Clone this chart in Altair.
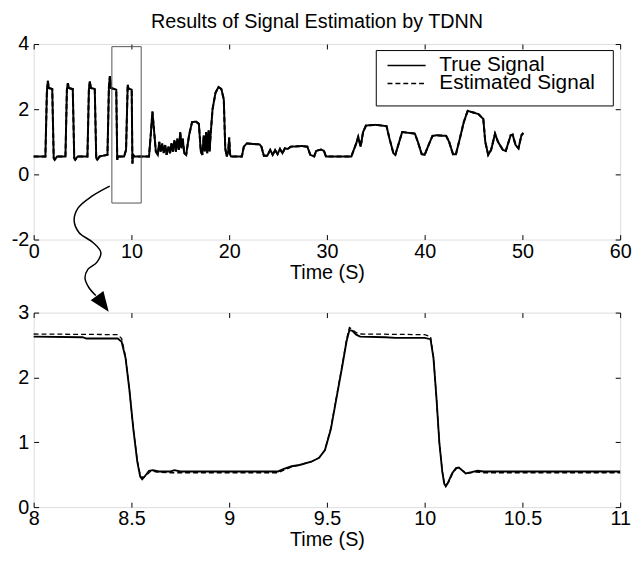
import altair as alt
import pandas as pd

FONT = "Liberation Sans"

# ---------------- data ----------------
top_t = [0, 1.2, 1.35, 1.45, 1.55, 1.9, 2.05, 2.15, 2.4,
         3.25, 3.4, 3.5, 3.6, 4.0, 4.15, 4.25, 4.5,
         5.5, 5.65, 5.75, 5.85, 6.25, 6.4, 6.5, 6.75,
         7.55, 7.7, 7.8, 7.9, 8.45, 8.55, 8.65, 9.25, 9.45, 9.62, 9.7, 10.03, 10.1, 10.17, 10.3,
         11.8, 12.0, 12.15, 12.3, 12.5, 12.7, 12.85, 13.0, 13.15, 13.3, 13.45, 13.6, 13.8, 13.95,
         14.1, 14.25, 14.4, 14.55, 14.7, 14.85, 15.0, 15.1, 15.25, 15.4, 15.6, 15.9, 16.2, 16.6,
         16.9, 17.1, 17.25, 17.4, 17.5, 17.65, 17.75, 17.9, 18.0, 18.1, 18.3, 18.6, 18.9, 19.2,
         19.45, 19.6, 19.75, 19.9, 20.0, 20.1, 20.2,
         21.3, 21.5, 21.8, 22.5, 23.1, 23.3, 23.55, 23.9, 24.2, 24.45, 24.7, 24.95, 25.2, 25.45,
         25.7, 26.0, 26.3, 27.5, 28.0, 28.3, 28.7, 28.9, 29.4, 29.7, 29.9,
         32.5, 33.0, 33.2, 33.45, 33.7, 34.0, 35.0, 36.1, 36.4, 36.8, 37.0, 37.3, 37.7, 38.2,
         39.0, 39.3, 39.7, 40.0, 40.4, 40.8, 41.2, 42.2, 42.5, 42.9, 43.2, 43.6, 44.0, 44.4,
         45.5, 46.0, 46.2, 46.5, 46.8, 47.2, 47.5, 48.0, 48.3, 48.8, 49.0, 49.3, 49.6, 49.9, 50.1]
true_top_v = [0.55, 0.55, 2.5, 2.87, 2.65, 2.62, 0.5, 0.45, 0.55,
              0.55, 2.6, 2.8, 2.65, 2.62, 0.5, 0.45, 0.55,
              0.55, 2.6, 2.85, 2.65, 2.62, 0.5, 0.45, 0.55,
              0.6, 2.7, 3.02, 2.65, 2.6, 0.45, 0.55, 0.55, 0.75, 2.75, 2.63, 2.6, 0.33, 0.6, 0.55,
              0.55, 1.3, 1.93, 1.4, 0.7, 0.6, 1.0, 0.7, 0.95, 0.65, 0.9, 0.6, 0.85, 0.65,
              0.95, 0.7, 1.05, 0.7, 1.1, 0.75, 1.3, 0.8, 1.1, 0.65, 0.6, 1.2, 1.6, 1.62,
              1.55, 0.7, 0.6, 1.2, 0.7, 1.3, 0.65, 1.35, 0.7, 1.2, 2.0, 2.5, 2.68, 2.62,
              2.3, 0.8, 0.55, 0.7, 1.13, 0.6, 0.55,
              0.55, 0.85, 0.95, 0.93, 0.92, 0.85, 0.57, 0.57, 0.75, 0.6, 0.75, 0.62, 0.78, 0.65,
              0.8, 0.78, 0.85, 0.87, 0.85, 0.6, 0.55, 0.72, 0.76, 0.72, 0.55,
              0.55, 0.95, 1.15, 0.85, 1.3, 1.5, 1.52, 1.48, 1.1, 0.65, 0.6, 0.9, 1.3, 1.28,
              1.25, 1.0, 0.62, 0.6, 0.9, 1.18, 1.2, 1.18, 1.0, 0.62, 0.62, 1.1, 1.6, 1.95,
              1.85, 1.7, 1.0, 0.6, 0.75, 1.25, 1.0, 0.75, 0.72, 1.2, 1.22, 0.9, 0.8, 1.2, 1.27]
# estimate is indistinguishable from the true signal at this scale
est_top_v = list(true_top_v)

bot_true_t = [8.0, 8.25, 8.27, 8.43, 8.45, 8.47, 8.49, 8.51, 8.53, 8.545, 8.555, 8.57, 8.59,
              8.61, 8.64, 8.7, 8.72, 8.75, 9.0, 9.25, 9.28, 9.32, 9.36, 9.42, 9.46, 9.49, 9.52,
              9.55, 9.58, 9.6, 9.615, 9.63, 9.65, 9.67, 9.8, 9.85, 10.0, 10.03, 10.045, 10.06,
              10.075, 10.09, 10.1, 10.108, 10.12, 10.14, 10.16, 10.175, 10.19, 10.21, 10.24,
              10.27, 10.3, 11.0]
bot_true_v = [2.63, 2.62, 2.6, 2.6, 2.55, 2.3, 1.8, 1.2, 0.7, 0.47, 0.43, 0.48, 0.56,
              0.57, 0.55, 0.55, 0.57, 0.55, 0.55, 0.55, 0.59, 0.63, 0.65, 0.7, 0.76, 0.88, 1.2,
              1.7, 2.2, 2.55, 2.73, 2.72, 2.66, 2.63, 2.62, 2.61, 2.61, 2.59, 2.3, 1.7,
              1.0, 0.55, 0.36, 0.32, 0.38, 0.52, 0.6, 0.61, 0.57, 0.52, 0.54,
              0.56, 0.55, 0.55]
bot_est_t = [8.0, 8.43, 8.45, 8.47, 8.49, 8.51, 8.53, 8.545, 8.56, 8.58, 8.6, 8.63, 8.7, 9.25,
             9.28, 9.32, 9.36, 9.42, 9.46, 9.49, 9.52, 9.55, 9.58, 9.6, 9.615, 9.63, 9.65, 9.67,
             10.0, 10.03, 10.045, 10.06, 10.075, 10.09, 10.1, 10.11, 10.125, 10.145, 10.165,
             10.18, 10.2, 10.22, 10.26, 10.3, 11.0]
bot_est_v = [2.67, 2.66, 2.6, 2.32, 1.8, 1.2, 0.72, 0.5, 0.45, 0.5, 0.56, 0.54, 0.53, 0.53,
             0.57, 0.62, 0.65, 0.7, 0.76, 0.88, 1.22, 1.72, 2.22, 2.58, 2.77, 2.74, 2.69, 2.67,
             2.66, 2.63, 2.32, 1.7, 1.0, 0.56, 0.38, 0.34, 0.4, 0.53, 0.6,
             0.6, 0.55, 0.52, 0.54, 0.53, 0.53]

series_names = ["True Signal", "Estimated Signal"]

# zoom window drawn on the upper plot (data units)
zoom_x = [8, 11]
zoom_y = [-0.88, 3.92]

# legend box of the upper plot (data units)
legend_box_t = [35.05, 59.3]
legend_box_v = [2.1, 3.8]
legend_sample_t = [36.2, 40.1]
legend_text_t = 41.5
legend_row_v = [3.34, 2.79]

# connector arrow, in the upper plot's data units
arrow_t = [7.78, 5.96, 4.55, 4.14, 4.65, 6.06, 6.87, 6.46, 5.56, 5.25, 5.66, 6.36]
arrow_v = [-0.36, -0.67, -1.03, -1.42, -1.79, -2.09, -2.39, -2.70, -2.91, -3.18, -3.48, -3.72]
arrow_head = [7.08, -3.97]

top_xticks = [0, 10, 20, 30, 40, 50, 60]
top_yticks = [-2, 0, 2, 4]
bot_xticks = [8, 8.5, 9, 9.5, 10, 10.5, 11]
bot_yticks = [0, 1, 2, 3]

W, H1, H2 = 594, 198, 197
TICK = 5


def ax_main(orient, values, title=None):
    kw = dict(orient=orient, values=values, offset=-TICK, tickSize=TICK, tickColor="black",
              tickWidth=1, domain=False, grid=False, labelFont=FONT, labelFontSize=20,
              labelColor="black", labelExpr="'' + datum.value",
              labelPadding=5 if orient == "left" else 2,
              labelFlush=False, labelOverlap=False)
    if title:
        kw.update(title=title, titleFont=FONT, titleFontSize=20, titleFontWeight="normal",
                  titleColor="black", titlePadding=1)
    else:
        kw.update(title=None)
    return alt.Axis(**kw)


def ax_ticks(orient, values):
    return alt.Axis(orient=orient, values=values, offset=-TICK, tickSize=TICK, tickColor="black",
                    tickWidth=1, domain=False, grid=False, labels=False, title=None)


# ---------------- upper chart ----------------
df_top = pd.DataFrame({
    "t": top_t + top_t,
    "v": true_top_v + est_top_v,
    "series": [series_names[0]] * len(top_t) + [series_names[1]] * len(top_t),
})
xs_top = alt.Scale(domain=[0, 60], nice=False, zero=False)
ys_top = alt.Scale(domain=[-2, 4], nice=False, zero=False)
dash_scale = alt.Scale(domain=series_names, range=[[1, 0], [5, 3]])

lines_top = alt.Chart(df_top).mark_line(color="black", strokeWidth=2).encode(
    x=alt.X("t:Q", scale=xs_top, axis=ax_main("bottom", top_xticks, "Time (S)")),
    y=alt.Y("v:Q", scale=ys_top, axis=ax_main("left", top_yticks)),
    strokeDash=alt.StrokeDash("series:N", scale=dash_scale, legend=None),
    detail="series:N",
)

df_zoom = pd.DataFrame({"x0": [zoom_x[0]], "x1": [zoom_x[1]], "y0": [zoom_y[0]], "y1": [zoom_y[1]]})
zoom_box = alt.Chart(df_zoom).mark_rect(fill=None, stroke="#555555", strokeWidth=1).encode(
    x=alt.X("x0:Q", scale=xs_top, axis=ax_ticks("top", top_xticks)),
    x2="x1:Q",
    y=alt.Y("y0:Q", scale=ys_top, axis=ax_ticks("right", top_yticks)),
    y2="y1:Q",
)

# legend, drawn inside the plot like MATLAB's
df_lbox = pd.DataFrame({"x0": [legend_box_t[0]], "x1": [legend_box_t[1]],
                        "y0": [legend_box_v[0]], "y1": [legend_box_v[1]]})
leg_box = alt.Chart(df_lbox).mark_rect(fill="white", stroke="black", strokeWidth=1).encode(
    x=alt.X("x0:Q", scale=xs_top, axis=None), x2="x1:Q",
    y=alt.Y("y0:Q", scale=ys_top, axis=None), y2="y1:Q",
)
df_lrows = pd.DataFrame({
    "series": series_names,
    "x0": [legend_sample_t[0]] * 2, "x1": [legend_sample_t[1]] * 2,
    "xt": [legend_text_t] * 2, "v": legend_row_v,
})
leg_lines = alt.Chart(df_lrows).mark_rule(color="black", strokeWidth=1.5).encode(
    x=alt.X("x0:Q", scale=xs_top, axis=None), x2="x1:Q",
    y=alt.Y("v:Q", scale=ys_top, axis=None),
    strokeDash=alt.StrokeDash("series:N", scale=dash_scale, legend=None),
)
leg_text = alt.Chart(df_lrows).mark_text(
    align="left", baseline="middle", font=FONT, fontSize=21, color="black"
).encode(
    x=alt.X("xt:Q", scale=xs_top, axis=None),
    y=alt.Y("v:Q", scale=ys_top, axis=None),
    text="series:N",
)

df_arrow = pd.DataFrame({"t": arrow_t, "v": arrow_v, "i": list(range(len(arrow_t)))})
arrow = alt.Chart(df_arrow).mark_line(color="black", strokeWidth=1.5,
                                      interpolate="catmull-rom", clip=False).encode(
    x=alt.X("t:Q", scale=xs_top, axis=None),
    y=alt.Y("v:Q", scale=ys_top, axis=None),
    order="i:Q",
)
df_head = pd.DataFrame({"t": [arrow_head[0]], "v": [arrow_head[1]]})
head = alt.Chart(df_head).mark_point(
    shape="M-0.8,-1L0.8,-1L0,1Z", size=400, filled=True, color="black",
    opacity=1, angle=324, clip=False,
).encode(
    x=alt.X("t:Q", scale=xs_top, axis=None),
    y=alt.Y("v:Q", scale=ys_top, axis=None),
)

top = alt.layer(lines_top, zoom_box, leg_box, leg_lines, leg_text, arrow, head).resolve_axis(
    x="independent", y="independent"
).properties(
    width=W, height=H1,
    title=alt.TitleParams("Results of Signal Estimation by TDNN", font=FONT, fontSize=20,
                          fontWeight="normal", color="black", offset=2, dx=-10),
)

# ---------------- lower chart ----------------
xs_bot = alt.Scale(domain=[8, 11], nice=False, zero=False)
ys_bot = alt.Scale(domain=[0, 3], nice=False, zero=False)

df_bt = pd.DataFrame({"t": bot_true_t, "v": bot_true_v})
df_be = pd.DataFrame({"t": bot_est_t, "v": bot_est_v})

est_bot = alt.Chart(df_be).mark_line(color="black", strokeWidth=1.3, strokeDash=[5, 3]).encode(
    x=alt.X("t:Q", scale=xs_bot, axis=ax_ticks("top", bot_xticks)),
    y=alt.Y("v:Q", scale=ys_bot, axis=ax_ticks("right", bot_yticks)),
)
true_bot = alt.Chart(df_bt).mark_line(color="black", strokeWidth=1.9).encode(
    x=alt.X("t:Q", scale=xs_bot, axis=ax_main("bottom", bot_xticks, "Time (S)")),
    y=alt.Y("v:Q", scale=ys_bot, axis=ax_main("left", bot_yticks)),
)
bottom = alt.layer(est_bot, true_bot).resolve_axis(
    x="independent", y="independent"
).properties(width=W, height=H2)

chart = alt.vconcat(top, bottom, spacing=74, bounds="flush").properties(
    padding={"left": 2, "top": 0, "right": 0, "bottom": 0},
).configure_view(stroke="black", strokeWidth=1).configure(background="white")

chart.save("out.html", embed_options={"renderer": "svg", "actions": False})
